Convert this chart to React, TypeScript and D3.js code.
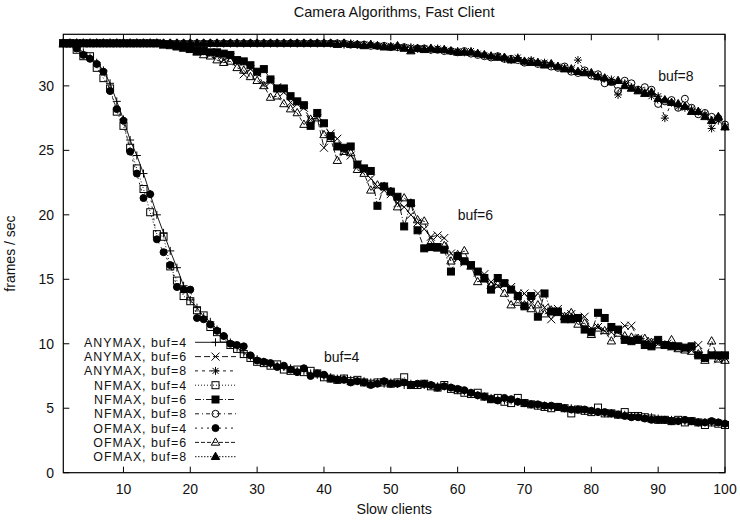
import React from "react";
import * as d3 from "d3";

const xs: number[] = d3.range(1, 101);

const anymax4 = [
  33.3,33.3,33.0,32.6,32.2,31.8,31.2,30.2,28.8,27.4,
  25.8,24.6,23.2,21.6,20.0,18.6,17.2,15.9,14.5,13.4,
  12.8,12.1,11.7,11.1,10.6,10.1,9.7,9.3,9.0,8.8,
  8.6,8.4,8.3,8.2,8.1,7.9,7.9,7.7,7.6,7.5,
  7.4,7.3,7.3,7.2,7.1,7.1,7.0,7.0,6.9,7.0,
  6.9,6.8,6.9,6.8,6.8,6.8,6.7,6.7,6.6,6.4,
  6.3,6.2,6.0,5.9,5.8,5.7,5.6,5.6,5.5,5.4,
  5.3,5.2,5.2,5.1,5.1,5.0,5.0,4.9,4.8,4.8,
  4.7,4.6,4.6,4.5,4.5,4.4,4.4,4.3,4.3,4.2,
  4.1,4.1,4.0,4.0,4.0,3.9,3.9,3.9,3.9,3.8,
];
const anymax6 = [
  33.3,33.3,33.3,33.3,33.3,33.3,33.3,33.3,33.3,33.3,
  33.3,33.3,33.3,33.3,33.3,33.2,33.2,33.1,33.0,32.9,
  32.8,32.7,32.6,32.4,32.0,32.2,31.9,30.9,31.3,31.0,
  30.1,30.3,29.9,29.5,28.7,28.6,28.3,27.4,27.5,25.2,
  26.3,25.9,24.9,24.6,23.9,23.4,22.8,22.2,21.9,21.6,
  20.9,20.6,20.0,19.4,18.9,18.3,18.4,18.2,17.0,16.6,
  16.3,16.1,15.5,15.4,14.8,14.5,14.6,14.4,13.9,13.9,
  13.2,13.9,12.8,11.9,12.7,12.2,12.3,12.0,12.1,11.2,
  11.3,11.0,10.9,11.0,11.4,11.4,10.4,10.2,10.2,10.0,
  9.9,9.8,9.7,9.6,9.5,9.9,9.0,9.2,8.8,8.9,
];
const anymax8 = [
  33.3,33.3,33.3,33.3,33.3,33.3,33.3,33.3,33.3,33.3,
  33.3,33.3,33.3,33.3,33.3,33.3,33.3,33.3,33.3,33.3,
  33.3,33.3,33.3,33.3,33.3,33.3,33.3,33.3,33.3,33.3,
  33.3,33.3,33.3,33.3,33.3,33.3,33.3,33.3,33.3,33.3,
  33.3,33.3,33.2,33.3,33.2,33.2,33.2,33.1,33.1,33.1,
  33.0,33.0,33.0,32.9,32.9,32.8,32.9,32.8,32.7,32.7,
  32.6,32.7,32.5,32.4,32.3,32.3,32.1,32.0,32.2,31.9,
  32.0,31.8,31.8,31.6,31.5,31.4,31.2,32.0,31.1,30.9,
  30.7,30.6,30.5,29.3,30.2,29.9,29.7,29.5,29.2,29.2,
  27.5,28.7,28.4,28.3,28.2,28.0,27.8,26.7,27.3,26.8,
];
const nfmax4 = [
  33.3,33.3,32.8,32.3,32.3,31.4,30.6,29.8,28.0,26.9,
  25.2,23.6,22.0,20.2,18.5,18.3,16.0,14.9,13.7,13.3,
  12.6,12.2,11.3,10.9,10.4,9.9,9.6,9.2,8.9,8.6,
  8.5,8.3,8.4,8.0,7.9,8.0,7.8,7.9,7.7,7.4,
  7.3,7.2,7.3,7.1,7.2,7.0,6.9,7.0,7.0,6.9,
  7.0,7.4,6.8,6.8,6.9,6.7,6.6,6.8,6.5,6.4,
  6.2,6.1,6.2,5.9,5.7,5.8,5.5,5.4,5.8,5.4,
  5.3,5.2,5.1,5.0,5.1,5.0,4.6,4.9,4.8,4.7,
  5.05,4.6,4.6,4.5,4.7,4.4,4.4,4.3,4.2,4.1,
  4.1,4.0,4.1,3.9,4.0,3.9,3.7,3.9,3.8,3.7,
];
const nfmax6 = [
  33.3,33.3,33.3,33.3,33.3,33.3,33.3,33.3,33.3,33.3,
  33.3,33.3,33.3,33.3,33.3,33.2,33.2,33.1,33.0,32.9,
  32.7,32.7,32.6,32.6,32.5,32.4,32.0,31.9,31.6,31.1,
  31.3,30.5,29.8,29.8,29.2,28.8,28.5,26.9,27.9,27.1,
  26.1,25.3,25.2,25.3,23.9,23.6,23.4,20.7,22.2,21.8,
  21.4,19.1,20.9,18.8,17.4,17.5,17.5,17.3,15.6,16.8,
  16.4,16.1,15.6,15.1,14.2,15.1,14.7,14.2,13.7,12.9,
  13.7,12.1,13.9,12.5,12.5,11.9,11.9,12.0,11.1,10.9,
  12.4,12.0,11.3,11.1,10.3,10.2,10.3,9.9,9.8,10.3,
  9.9,9.8,9.8,9.7,9.8,9.1,8.9,9.1,9.1,9.1,
];
const nfmax8 = [
  33.3,33.3,33.3,33.3,33.3,33.3,33.3,33.3,33.3,33.3,
  33.3,33.3,33.3,33.3,33.3,33.3,33.3,33.3,33.3,33.3,
  33.3,33.3,33.3,33.3,33.3,33.3,33.3,33.3,33.3,33.3,
  33.3,33.3,33.3,33.3,33.3,33.3,33.3,33.3,33.3,33.3,
  33.3,33.3,33.3,33.2,33.2,33.2,33.1,33.1,33.1,33.0,
  33.0,33.0,32.9,32.9,32.9,32.8,32.8,32.7,32.7,32.6,
  32.7,32.5,32.4,32.3,32.2,32.3,32.1,32.1,32.0,31.8,
  31.9,31.7,31.7,31.5,31.4,31.5,31.1,31.0,31.2,30.8,
  30.9,30.2,30.3,29.6,30.4,30.2,29.7,29.9,29.7,28.6,
  28.8,28.9,28.3,29.0,28.3,27.8,27.9,27.6,27.5,27.0,
];
const ofmax4 = [
  33.3,33.3,32.9,32.4,32.1,31.7,31.1,29.6,28.2,27.3,
  24.9,23.2,21.3,21.6,18.1,17.1,16.1,14.4,14.2,14.2,
  12.0,11.9,11.5,11.0,10.6,10.0,9.9,9.8,9.1,8.7,
  8.6,8.5,8.2,8.3,8.0,7.8,8.1,7.5,7.7,7.6,
  7.3,7.2,7.2,7.0,7.1,7.0,6.8,6.9,7.1,6.9,
  6.9,7.0,6.8,6.9,6.9,6.8,6.6,6.7,6.6,6.5,
  6.4,6.2,6.0,5.9,5.7,5.6,5.8,5.7,5.5,5.4,
  5.3,5.3,5.2,5.2,5.1,5.0,4.9,4.9,4.9,4.8,
  4.7,4.7,4.6,4.5,4.4,4.3,4.3,4.2,4.1,4.1,
  4.1,4.0,4.0,4.1,4.0,3.9,3.9,4.0,3.9,3.8,
];
const ofmax6 = [
  33.3,33.3,33.3,33.3,33.3,33.3,33.3,33.3,33.3,33.3,
  33.3,33.3,33.3,33.3,33.3,33.2,33.1,33.0,32.9,32.8,
  32.6,32.4,32.3,32.0,31.8,31.9,31.4,31.2,30.7,30.4,
  30.0,29.1,29.2,28.6,28.2,27.9,27.0,27.4,27.5,26.2,
  25.9,24.2,24.9,24.8,23.5,23.2,21.9,22.3,22.2,21.8,
  20.6,21.3,20.9,19.6,19.5,17.9,17.4,17.6,16.4,16.9,
  17.2,16.0,14.8,15.0,14.5,14.6,13.9,13.0,13.2,13.0,
  12.7,13.0,12.3,12.6,12.4,12.1,12.4,11.5,11.6,10.7,
  11.2,11.0,10.2,10.8,10.6,10.5,10.4,10.4,10.1,9.9,
  9.9,10.3,9.6,9.5,9.4,9.2,8.7,10.2,8.8,8.7,
];
const ofmax8 = [
  33.3,33.3,33.3,33.3,33.3,33.3,33.3,33.3,33.3,33.3,
  33.3,33.3,33.3,33.3,33.3,33.3,33.3,33.3,33.3,33.3,
  33.3,33.3,33.3,33.3,33.3,33.3,33.3,33.3,33.3,33.3,
  33.3,33.3,33.3,33.3,33.3,33.3,33.3,33.3,33.3,33.3,
  33.3,33.2,33.3,33.2,33.2,33.1,33.2,33.1,33.0,33.0,
  33.1,32.9,32.7,32.9,32.8,32.9,32.8,32.8,32.7,32.6,
  32.6,32.6,32.5,32.4,32.3,32.2,32.2,32.0,32.1,31.9,
  31.8,31.8,31.6,31.7,31.5,31.3,31.3,31.1,31.0,31.0,
  30.7,30.6,30.3,30.4,30.0,29.8,29.6,29.4,29.5,29.0,
  28.9,28.7,28.6,28.4,28.0,28.0,27.6,27.3,27.6,26.8,
];

const seriesNames = [
  "ANYMAX, buf=4", "ANYMAX, buf=6", "ANYMAX, buf=8",
  "NFMAX, buf=4", "NFMAX, buf=6", "NFMAX, buf=8",
  "OFMAX, buf=4", "OFMAX, buf=6", "OFMAX, buf=8",
];
const seriesValues = [anymax4, anymax6, anymax8, nfmax4, nfmax6, nfmax8, ofmax4, ofmax6, ofmax8];
const seriesMarkers = ["plus", "cross", "star", "oSquare", "fSquare", "oCircle", "fCircle", "oTriangle", "fTriangle"];
const seriesDash = [undefined, "6,3", "3,4", "1,2", "6,2,1,2", "4,3,1,3", "2,4", "4,2", "1.5,1.5"];

const xTicks = [10, 20, 30, 40, 50, 60, 70, 80, 90, 100];
const yTicks = [0, 5, 10, 15, 20, 25, 30];
const annotations = [
  { text: "buf=4", x: 40, y: 9 },
  { text: "buf=6", x: 60, y: 20 },
  { text: "buf=8", x: 90, y: 30.8 },
];

const FONT = "'Liberation Sans', Arial, Helvetica, sans-serif";
const L = 63.3, R = 725, T = 34.3, B = 472.7;

function Marker({ type, x, y }: { type: string; x: number; y: number }) {
  const s = 4;
  switch (type) {
    case "plus":
      return <path d={`M${x - s},${y}h${2 * s}M${x},${y - s}v${2 * s}`} stroke="#000" fill="none" />;
    case "cross":
      return <path d={`M${x - s},${y - s}l${2 * s},${2 * s}M${x - s},${y + s}l${2 * s},${-2 * s}`} stroke="#000" fill="none" />;
    case "star":
      return (
        <path
          d={`M${x - s},${y}h${2 * s}M${x},${y - s}v${2 * s}M${x - 3},${y - 3}l6,6M${x - 3},${y + 3}l6,-6`}
          stroke="#000" fill="none"
        />
      );
    case "oSquare":
      return <rect x={x - 3.5} y={y - 3.5} width={7} height={7} stroke="#000" fill="none" />;
    case "fSquare":
      return <rect x={x - 3.5} y={y - 3.5} width={7} height={7} stroke="#000" fill="#000" />;
    case "oCircle":
      return <circle cx={x} cy={y} r={3.5} stroke="#000" fill="none" />;
    case "fCircle":
      return <circle cx={x} cy={y} r={3.5} stroke="#000" fill="#000" />;
    case "oTriangle":
      return <path d={`M${x},${y - 4.5}L${x + 4.2},${y + 2.8}L${x - 4.2},${y + 2.8}Z`} stroke="#000" fill="none" />;
    case "fTriangle":
      return <path d={`M${x},${y - 4.5}L${x + 4.2},${y + 2.8}L${x - 4.2},${y + 2.8}Z`} stroke="#000" fill="#000" />;
  }
  return null;
}

export default function App() {
  const x = d3.scaleLinear().domain([1, 100]).range([L, R]);
  const y = d3.scaleLinear().domain([0, 34]).range([B, T]);
  const line = d3.line<number>().x((_, i) => x(xs[i])).y((d) => y(d));

  const legendY0 = 342.3;
  const legendStep = 14.3;

  return (
    <svg width={740} height={520} style={{ position: "fixed", left: 0, top: 0, background: "#fff" }} fontFamily={FONT} fill="#111">
      <rect x={0} y={0} width={740} height={520} fill="#fff" />
      <text x={(L + R) / 2} y={17} textAnchor="middle" fontSize={14.5}>Camera Algorithms, Fast Client</text>
      <text x={(L + R) / 2} y={514} textAnchor="middle" fontSize={14.3}>Slow clients</text>
      <text transform={`translate(15,${(T + B) / 2}) rotate(-90)`} textAnchor="middle" fontSize={14}>frames / sec</text>

      {/* ticks */}
      {xTicks.map((t) => (
        <g key={"xt" + t}>
          <line x1={x(t)} x2={x(t)} y1={B} y2={B - 6} stroke="#000" />
          <line x1={x(t)} x2={x(t)} y1={T} y2={T + 6} stroke="#000" />
          <text x={x(t)} y={493.5} textAnchor="middle" fontSize={14}>{t}</text>
        </g>
      ))}
      {yTicks.map((t) => (
        <g key={"yt" + t}>
          <line x1={L} x2={L + 6} y1={y(t)} y2={y(t)} stroke="#000" />
          <line x1={R} x2={R - 6} y1={y(t)} y2={y(t)} stroke="#000" />
          <text x={54} y={y(t)} dy="0.36em" textAnchor="end" fontSize={14}>{t}</text>
        </g>
      ))}

      {/* series */}
      {seriesValues.map((vals, si) => (
        <g key={"s" + si}>
          <path d={line(vals) || ""} fill="none" stroke="#000" strokeWidth={0.9} strokeDasharray={seriesDash[si]} />
          {vals.map((v, i) => (
            <Marker key={i} type={seriesMarkers[si]} x={x(xs[i])} y={y(v)} />
          ))}
        </g>
      ))}

      {/* annotations */}
      {annotations.map((a) => (
        <text key={a.text} x={x(a.x)} y={y(a.y)} dy="0.36em" fontSize={14}>{a.text}</text>
      ))}

      {/* legend */}
      {seriesNames.map((name, si) => {
        const ly = legendY0 + si * legendStep;
        return (
          <g key={"lg" + si}>
            <text x={187} y={ly} dy="0.36em" textAnchor="end" fontSize={12.4} letterSpacing={0.95}>{name}</text>
            <line x1={195} x2={236} y1={ly} y2={ly} stroke="#000" strokeWidth={0.9} strokeDasharray={seriesDash[si]} />
            <Marker type={seriesMarkers[si]} x={215.5} y={ly} />
          </g>
        );
      })}

      {/* frame */}
      <rect x={L} y={T} width={R - L} height={B - T} fill="none" stroke="#000" strokeWidth={1.2} />
    </svg>
  );
}
